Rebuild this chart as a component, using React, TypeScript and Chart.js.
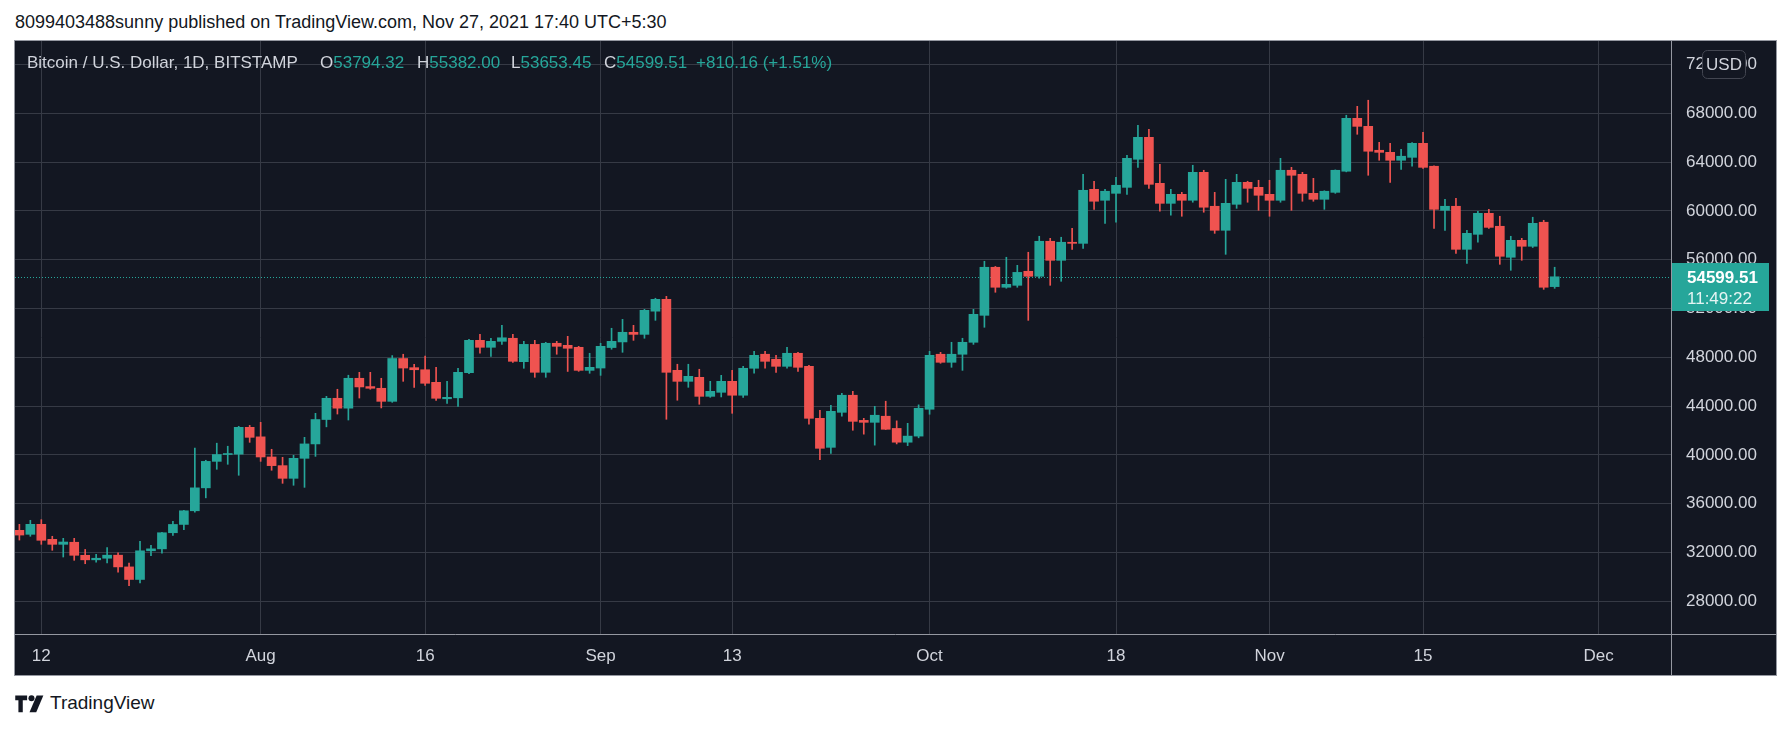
import React, { useEffect, useRef } from 'react';
import { Chart, registerables } from 'chart.js';

Chart.register(...registerables);

// ---------- data ----------
const START_DATE = '2021-07-10';

const OPEN = [
  33820, 33490, 34310, 33080, 32670, 32840, 31770, 31400, 31530, 31780,
  30820, 29790, 32140, 32300, 33620, 34300, 35420, 37300, 39470, 40030,
  40060, 42260, 41480, 39830, 39120, 38080, 39720, 40900, 42900, 44640,
  43830, 46280, 45600, 45460, 44390, 47900, 47150, 46980, 45950, 44600,
  44680, 46740, 49390, 48820, 49310, 49560, 47640, 49060, 46770, 49150,
  48980, 48820, 46930, 47120, 48800, 49260, 50050, 49880, 51780, 52750,
  46930, 46030, 46360, 44800, 45130, 46030, 44890, 47100, 48250, 47840,
  47260, 48330, 47260, 43000, 40620, 43490, 44890, 42830, 42670, 43170,
  42170, 41040, 41540, 43740, 48250, 47590, 48250, 49230, 51440, 55380,
  53740, 53900, 55050, 54640, 57510, 55950, 57430, 57340, 61770, 60870,
  61440, 61930, 64230, 66030, 62260, 60620, 61360, 60870, 63160, 60380,
  58410, 60540, 62340, 61930, 61360, 60870, 63330, 63000, 61440, 60950,
  61520, 63250, 67590, 66930, 64970, 64800, 64150, 64390, 65540, 63660,
  60050, 60380, 56850, 58080, 59800, 58740, 56200, 57590, 57100, 59070,
  53794.32,
];

const HIGH = [
  34310, 34640, 34690, 33330, 33160, 33160, 32250, 31850, 32400, 31970,
  31140, 32920, 32590, 33650, 34560, 35460, 40560, 39560, 40960, 40710,
  42340, 42420, 42670, 40460, 39800, 39970, 41440, 43410, 44800, 45380,
  46530, 46770, 46770, 46280, 48140, 48250, 47430, 48090, 47180, 46030,
  47100, 49470, 49880, 49560, 50620, 49880, 49310, 49390, 49230, 49310,
  49720, 48900, 48330, 49150, 50380, 51110, 50620, 51930, 52840, 53000,
  47430, 47430, 47020, 46030, 46520, 46930, 47260, 48490, 48490, 48160,
  48820, 48410, 47340, 43660, 44070, 45050, 45210, 43000, 43980, 44400,
  42790, 42590, 44100, 48490, 48410, 49230, 49560, 51930, 55870, 55450,
  56200, 55540, 56610, 57920, 57750, 57840, 58570, 63000, 62430, 61770,
  62750, 64560, 67020, 66690, 63820, 61770, 61520, 63740, 63330, 61520,
  62590, 63000, 62430, 62510, 62510, 64310, 63570, 63160, 62670, 61650,
  63360, 67840, 68570, 69070, 65620, 65540, 65050, 65600, 66440, 63700,
  60950, 61030, 58410, 59970, 60130, 59560, 57920, 57750, 59480, 59230,
  55382.0,
];

const LOW = [
  33020, 33330, 32670, 32180, 31630, 31360, 31080, 31200, 31150, 30380,
  29280, 29500, 31750, 31950, 33410, 33880, 35300, 36480, 38820, 39230,
  38330, 41030, 39470, 38740, 37670, 37510, 37340, 39880, 42300, 43350,
  42860, 44660, 45380, 43850, 44310, 46030, 45540, 45700, 44470, 44230,
  43980, 46650, 48330, 48080, 49060, 47590, 47100, 46360, 46360, 48250,
  46840, 46850, 46690, 46520, 48660, 48410, 49390, 49560, 51030, 42920,
  44480, 45540, 44150, 44720, 44750, 43410, 44720, 46690, 47100, 46770,
  47100, 46850, 42510, 39600, 40130, 43170, 42020, 41700, 40800, 42080,
  40900, 40760, 41400, 43330, 47510, 47180, 46930, 49060, 50460, 53330,
  53660, 53740, 51030, 54480, 53900, 54230, 56850, 56930, 60130, 58980,
  59070, 61360, 63570, 61850, 59970, 59640, 59560, 60710, 59890, 58160,
  56440, 60210, 60710, 60050, 59560, 60710, 60050, 60790, 60790, 60130,
  61440, 63200, 66280, 62920, 64150, 62340, 63410, 63660, 63490, 58570,
  58410, 56520, 55700, 57430, 58570, 55620, 55130, 55950, 57000, 53570,
  53653.45,
];

const CLOSE = [
  33430, 34310, 33000, 32670, 32860, 31770, 31400, 31530, 31780, 30820,
  29790, 32140, 32300, 33620, 34300, 35420, 37300, 39470, 40030, 40060,
  42260, 41440, 39830, 39120, 38080, 39720, 40900, 42900, 44640, 43830,
  46280, 45570, 45460, 44390, 47900, 47120, 46980, 45870, 44640, 44720,
  46770, 49390, 48820, 49310, 49600, 47670, 49060, 46770, 49150, 48900,
  48740, 46930, 47180, 48900, 49310, 50050, 49880, 51850, 52750, 46770,
  46030, 46440, 44800, 45210, 46030, 44890, 47100, 48160, 47670, 47260,
  48330, 47180, 43000, 40540, 43570, 44890, 42750, 42670, 43250, 42100,
  41040, 41540, 43820, 48160, 47590, 48250, 49230, 51520, 55380, 53740,
  53980, 54960, 54640, 57510, 55950, 57430, 57340, 61690, 60790, 61610,
  62100, 64310, 66030, 62180, 60620, 61360, 60870, 63160, 60300, 58410,
  60620, 62340, 61850, 61280, 60870, 63330, 62920, 61440, 60950, 61610,
  63330, 67590, 66930, 64890, 64800, 64150, 64480, 65540, 63570, 60130,
  60380, 56850, 58160, 59800, 58650, 56280, 57590, 57100, 58980, 53740,
  54599.51,
];

const TICK_DATES = [
  '2021-07-12', '2021-08-01', '2021-08-16', '2021-09-01', '2021-09-13',
  '2021-10-01', '2021-10-18', '2021-11-01', '2021-11-15', '2021-12-01',
];
const TICK_LABELS = ['12', 'Aug', '16', 'Sep', '13', 'Oct', '18', 'Nov', '15', 'Dec'];

const PRICE_TICKS = [28000, 32000, 36000, 40000, 44000, 48000, 52000, 56000, 60000, 64000, 68000, 72000];

const TITLE = '8099403488sunny published on TradingView.com, Nov 27, 2021 17:40 UTC+5:30';
const SYMBOL = 'Bitcoin / U.S. Dollar, 1D, BITSTAMP';
const CHANGE = 810.16;
const CHANGE_PCT = 1.51;
const COUNTDOWN = '11:49:22';
const CURRENCY = 'USD';

// ---------- style ----------
const FONT = "'Liberation Sans', Arial, sans-serif";
const BG = '#131722';
const GRID = '#363a45';
const FRAME = '#9598a1';
const TEXT = '#d1d4dc';
const UP = '#26a69a';
const DOWN = '#ef5350';

const X_MIN = -0.4;
const X_MAX = 150.61;
const Y_MIN = 25320;
const Y_MAX = 73926;

const dayIndex = (d: string) =>
  Math.round((Date.parse(d + 'T00:00:00Z') - Date.parse(START_DATE + 'T00:00:00Z')) / 86400000);

const LAST_CLOSE = CLOSE[CLOSE.length - 1];

const zeroPadding = (s: any) => {
  s.paddingTop = 0;
  s.paddingBottom = 0;
  s.paddingLeft = 0;
  s.paddingRight = 0;
};

const overlayPlugin = {
  id: 'tvOverlay',
  beforeDatasetsDraw(chart: any) {
    const { ctx, chartArea, scales } = chart;
    const py = Math.round(scales.y.getPixelForValue(LAST_CLOSE)) + 0.5;
    ctx.save();
    ctx.strokeStyle = UP;
    ctx.lineWidth = 1;
    ctx.setLineDash([1, 2]);
    ctx.beginPath();
    ctx.moveTo(chartArea.left, py);
    ctx.lineTo(chartArea.right, py);
    ctx.stroke();
    ctx.restore();
  },
  afterDraw(chart: any) {
    const { ctx, chartArea, scales, width, height } = chart;
    ctx.save();
    // axis separators
    ctx.strokeStyle = FRAME;
    ctx.lineWidth = 1;
    const rx = Math.round(chartArea.right) + 0.5;
    const by = Math.round(chartArea.bottom) + 0.5;
    ctx.beginPath();
    ctx.moveTo(rx, 0);
    ctx.lineTo(rx, height);
    ctx.moveTo(0, by);
    ctx.lineTo(width, by);
    ctx.stroke();

    // last price label
    const py = Math.round(scales.y.getPixelForValue(LAST_CLOSE));
    const bx = Math.round(chartArea.right) + 1;
    ctx.fillStyle = UP;
    ctx.fillRect(bx, py - 14, 97, 48);
    ctx.textAlign = 'left';
    ctx.textBaseline = 'middle';
    ctx.fillStyle = '#ffffff';
    ctx.font = `bold 17px ${FONT}`;
    ctx.fillText(LAST_CLOSE.toFixed(2), bx + 15, py + 1);
    ctx.fillStyle = 'rgba(255,255,255,0.88)';
    ctx.font = `17px ${FONT}`;
    ctx.fillText(COUNTDOWN, bx + 15, py + 22);

    // currency badge
    const ux = Math.round(chartArea.right) + 31.5;
    const uy = 9.5;
    ctx.beginPath();
    (ctx as any).roundRect(ux, uy, 43, 28, 5);
    ctx.fillStyle = BG;
    ctx.fill();
    ctx.strokeStyle = '#434651';
    ctx.stroke();
    ctx.fillStyle = TEXT;
    ctx.textAlign = 'center';
    ctx.fillText(CURRENCY, ux + 21.5, uy + 14.5);
    ctx.restore();
  },
};

export default function App() {
  const canvasRef = useRef<HTMLCanvasElement>(null);

  useEffect(() => {
    Chart.defaults.font.family = FONT;
    Chart.defaults.font.size = 17;
    const colors = OPEN.map((o, i) => (CLOSE[i] >= o ? UP : DOWN));
    const bodies = OPEN.map((o, i) => ({ x: i, y: [o, CLOSE[i]] }));
    const wicks = OPEN.map((_, i) => ({ x: i, y: [LOW[i], HIGH[i]] }));
    const tickValues = TICK_DATES.map(dayIndex);

    const chart = new Chart(canvasRef.current as HTMLCanvasElement, {
      type: 'bar',
      data: {
        datasets: [
          {
            data: bodies as any,
            backgroundColor: colors,
            borderWidth: 0,
            barThickness: 9,
            minBarLength: 1,
            grouped: false,
            order: 0,
          } as any,
          {
            data: wicks as any,
            backgroundColor: colors,
            borderWidth: 0,
            barThickness: 1,
            grouped: false,
            order: 1,
          } as any,
        ],
      },
      options: {
        animation: false,
        responsive: true,
        maintainAspectRatio: false,
        layout: { padding: 0 },
        plugins: { legend: { display: false }, tooltip: { enabled: false } },
        scales: {
          x: {
            type: 'linear',
            min: X_MIN,
            max: X_MAX,
            offset: false,
            bounds: 'data',
            grid: { color: GRID, drawTicks: false, offset: false },
            border: { display: false },
            ticks: {
              autoSkip: false,
              maxRotation: 0,
              color: TEXT,
              font: { size: 17, family: FONT },
              padding: 12,
              callback: (_v: any, i: number) => TICK_LABELS[i],
            },
            afterBuildTicks: (s: any) => {
              s.ticks = tickValues.map((v) => ({ value: v }));
            },
            afterFit: (s: any) => {
              s.height = 41;
              zeroPadding(s);
            },
          } as any,
          y: {
            type: 'linear',
            position: 'right',
            min: Y_MIN,
            max: Y_MAX,
            bounds: 'data',
            grid: { color: GRID, drawTicks: false },
            border: { display: false },
            ticks: {
              color: TEXT,
              font: { size: 17, family: FONT },
              padding: 15,
              callback: (v: any) => Number(v).toFixed(2),
            },
            afterBuildTicks: (s: any) => {
              s.ticks = PRICE_TICKS.map((v) => ({ value: v }));
            },
            afterFit: (s: any) => {
              s.width = 105;
              zeroPadding(s);
            },
          } as any,
        },
      },
      plugins: [overlayPlugin],
    });
    return () => chart.destroy();
  }, []);

  const last = OPEN.length - 1;
  const fmt = (v: number) => v.toFixed(2);
  const item = (left: number, letter: string, value: string) => (
    <div style={{ position: 'absolute', left, top: 0, whiteSpace: 'nowrap' }}>
      <span style={{ color: TEXT }}>{letter}</span>
      <span style={{ color: UP }}>{value}</span>
    </div>
  );

  return (
    <div
      style={{
        position: 'fixed',
        left: 0,
        top: 0,
        width: 1791,
        height: 729,
        background: '#ffffff',
        fontFamily: FONT,
        overflow: 'hidden',
      }}
    >
      <div
        style={{
          position: 'absolute',
          left: 15,
          top: 11,
          fontSize: 18,
          lineHeight: '22px',
          color: '#131722',
          whiteSpace: 'nowrap',
        }}
      >
        {TITLE}
      </div>

      <div
        style={{
          position: 'absolute',
          left: 14,
          top: 40,
          width: 1763,
          height: 636,
          boxSizing: 'border-box',
          border: `1px solid ${FRAME}`,
          background: BG,
        }}
      >
        <div style={{ position: 'absolute', left: 0, top: 0, width: 1761, height: 634 }}>
          <canvas ref={canvasRef} />
        </div>
        <div
          style={{
            position: 'absolute',
            left: 0,
            top: 12,
            height: 20,
            width: 900,
            fontSize: 17,
            lineHeight: '20px',
            pointerEvents: 'none',
          }}
        >
          <div style={{ position: 'absolute', left: 12, top: 0, color: TEXT, whiteSpace: 'nowrap' }}>{SYMBOL}</div>
          {item(305, 'O', fmt(OPEN[last]))}
          {item(402, 'H', fmt(HIGH[last]))}
          {item(496, 'L', fmt(LOW[last]))}
          {item(589, 'C', fmt(CLOSE[last]))}
          <div style={{ position: 'absolute', left: 681, top: 0, color: UP, whiteSpace: 'nowrap' }}>
            {`+${CHANGE.toFixed(2)} (+${CHANGE_PCT.toFixed(2)}%)`}
          </div>
        </div>
      </div>

      <div style={{ position: 'absolute', left: 15, top: 692, height: 22, display: 'flex', alignItems: 'center' }}>
        <svg width="29" height="19" viewBox="0 0 36 24" style={{ display: 'block' }}>
          <path d="M0 2h15v6H9.5v15H4V8H0z" fill="#131722" />
          <circle cx="20.5" cy="5.5" r="3.8" fill="#131722" />
          <path d="M27 2h8.5l-9 21H18z" fill="#131722" />
        </svg>
        <span style={{ marginLeft: 6, fontSize: 19, color: '#131722', lineHeight: '22px' }}>TradingView</span>
      </div>
    </div>
  );
}
